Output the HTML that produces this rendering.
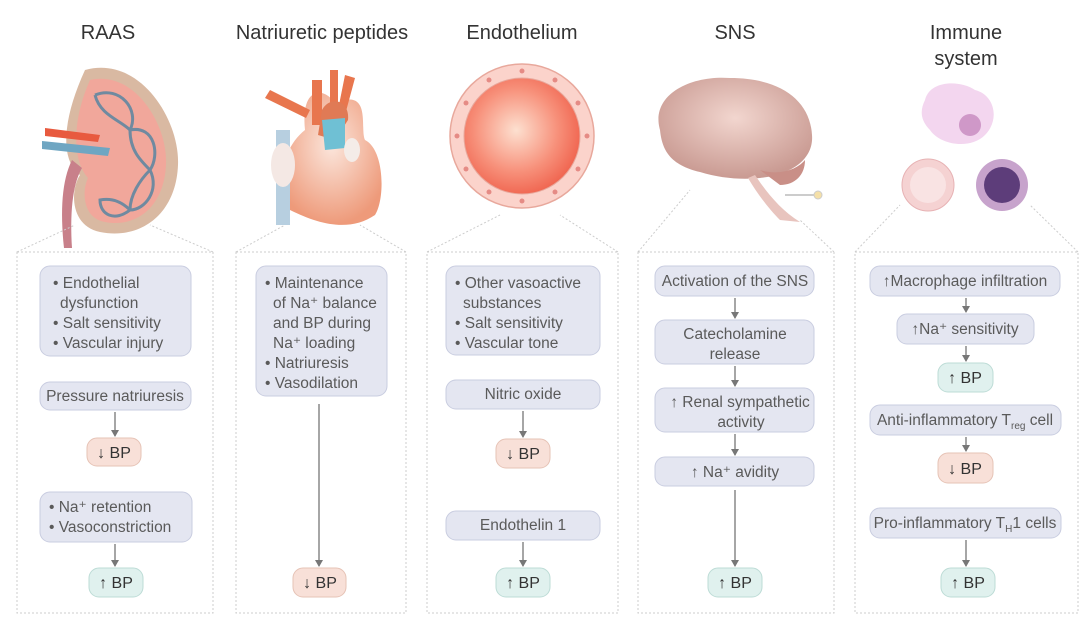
<!DOCTYPE html>
<html><head><meta charset="utf-8"><style>
html,body{margin:0;padding:0;background:#fff;}
svg{display:block;font-family:"Liberation Sans",sans-serif;}
.t{font-size:20px;fill:#333;text-anchor:middle;}
.n{font-size:15.5px;fill:#5a5a5a;}
.c{text-anchor:middle;}
.b{fill:#e4e6f1;stroke:#c9cde0;stroke-width:1;}
.r{fill:#f8e0d8;stroke:#e6c3b6;}
.g{fill:#e0f1ee;stroke:#bddcd6;}
.bp{font-size:16px;fill:#333;text-anchor:middle;}
.ar{stroke:#777;stroke-width:1.3;fill:none;}
.pn{fill:none;stroke:#ccc;stroke-width:1;stroke-dasharray:2,2;}
</style></head><body>
<svg width="1080" height="632" viewBox="0 0 1080 632">
<defs>
<marker id="a" markerWidth="8" markerHeight="8" refX="6" refY="4" orient="auto" markerUnits="userSpaceOnUse"><path d="M0,0 L7,4 L0,8 Z" fill="#777"/></marker>
<radialGradient id="eg" cx="0.45" cy="0.45" r="0.6"><stop offset="0" stop-color="#fde0d0"/><stop offset="0.6" stop-color="#f7907a"/><stop offset="1" stop-color="#ef5f4a"/></radialGradient>
<radialGradient id="bg" cx="0.5" cy="0.4" r="0.6"><stop offset="0" stop-color="#f2d6cf"/><stop offset="1" stop-color="#c99a92"/></radialGradient>
<radialGradient id="hg" cx="0.5" cy="0.4" r="0.6"><stop offset="0" stop-color="#fbe6dc"/><stop offset="1" stop-color="#ee9a7a"/></radialGradient>
</defs>

<text class="t" x="108" y="39">RAAS</text>
<text class="t" x="322" y="39">Natriuretic peptides</text>
<text class="t" x="522" y="39">Endothelium</text>
<text class="t" x="735" y="39">SNS</text>
<text class="t" x="966" y="39">Immune</text>
<text class="t" x="966" y="65">system</text>

<!-- kidney -->
<path d="M85,70 C140,55 180,120 178,165 C176,215 140,240 100,232 C70,226 70,190 80,175 C60,160 62,120 85,70 Z" fill="#d9b9a2"/>
<path d="M90,80 C135,70 168,125 166,165 C164,208 135,228 105,222 C82,218 82,190 88,178 C72,160 72,120 90,80 Z" fill="#f1a79b"/>
<g fill="none" stroke="#6f8aa0" stroke-width="3">
<path d="M95,95 C120,85 140,110 130,130 C120,120 100,115 95,95"/>
<path d="M130,130 C155,125 160,155 150,170 C140,160 130,150 130,130"/>
<path d="M150,170 C160,190 145,210 130,210 C130,195 140,180 150,170"/>
<path d="M130,210 C115,222 100,215 100,200 C110,198 120,200 130,210"/>
</g>
<path d="M45,128 L100,135 L98,142 L45,136 Z" fill="#e85a3f"/>
<path d="M42,141 L110,148 L108,156 L42,149 Z" fill="#6fa6c2"/>
<path d="M72,160 C62,180 60,210 64,248 L72,248 C70,215 72,185 82,168 Z" fill="#c8808a"/>
<!-- heart -->
<path d="M305,130 C300,80 330,90 335,105 L345,100 C370,95 360,130 365,140 C385,150 385,200 375,215 C350,232 320,225 290,210 C275,190 280,150 305,130 Z" fill="url(#hg)"/>
<path d="M312,80 L322,80 L322,125 L312,125 Z" fill="#e8764e"/>
<path d="M330,70 L338,70 L338,110 L330,110 Z" fill="#e8764e"/>
<path d="M270,90 L310,110 L306,118 L265,98 Z" fill="#e8764e"/>
<path d="M345,75 L355,78 L345,115 L338,110 Z" fill="#e8764e"/>
<path d="M322,110 C330,95 350,100 348,120 L335,140 L318,135 Z" fill="#e07a55"/>
<path d="M322,120 L345,118 L345,148 L325,150 Z" fill="#6fc0d4"/>
<rect x="276" y="130" width="14" height="95" fill="#b7cfe0"/>
<ellipse cx="283" cy="165" rx="12" ry="22" fill="#f4e8e4"/>
<ellipse cx="352" cy="150" rx="8" ry="12" fill="#f4ece8"/>
<!-- endothelium -->
<circle cx="522" cy="136" r="72" fill="#fbd3cb" stroke="#e8a89c" stroke-width="1.5"/>
<circle cx="522" cy="136" r="58" fill="url(#eg)" stroke="#e8a89c"/>
<g fill="#e58b85">
<circle cx="522" cy="71" r="2.5"/><circle cx="555" cy="80" r="2.5"/><circle cx="578" cy="103" r="2.5"/><circle cx="587" cy="136" r="2.5"/><circle cx="578" cy="169" r="2.5"/><circle cx="555" cy="192" r="2.5"/><circle cx="522" cy="201" r="2.5"/><circle cx="489" cy="192" r="2.5"/><circle cx="466" cy="169" r="2.5"/><circle cx="457" cy="136" r="2.5"/><circle cx="466" cy="103" r="2.5"/><circle cx="489" cy="80" r="2.5"/>
</g>
<!-- brain -->
<path d="M660,130 C650,95 690,75 730,78 C780,78 810,100 812,135 C814,160 790,175 760,178 C740,180 720,178 700,172 C670,165 662,150 660,130 Z" fill="url(#bg)"/>
<path d="M760,170 C775,175 795,172 805,160 C805,175 795,185 780,185 Z" fill="#c98f87"/>
<path d="M755,175 C765,190 780,210 800,222 L780,220 C770,210 758,195 748,178 Z" fill="#e8c4be"/>
<line x1="785" y1="195" x2="815" y2="195" stroke="#ccc" stroke-width="2"/>
<circle cx="818" cy="195" r="4" fill="#f5e0a8" stroke="#ccc"/>
<!-- immune -->
<path d="M925,100 C930,80 960,80 975,90 C995,95 1000,120 985,135 C970,150 940,145 930,130 C920,120 920,110 925,100 Z" fill="#f3d6ef"/>
<circle cx="970" cy="125" r="11" fill="#cf98c8"/>
<circle cx="928" cy="185" r="26" fill="#f5d2d2" stroke="#e7b2b4"/>
<circle cx="928" cy="185" r="18" fill="#f9e3e3"/>
<circle cx="1002" cy="185" r="26" fill="#c7a3cc"/>
<circle cx="1002" cy="185" r="18" fill="#5d3d7a"/>

<g class="pn">
<rect x="17" y="252" width="196" height="361"/>
<path d="M17,252 L75,225 M213,252 L150,225"/>
<rect x="236" y="252" width="170" height="361"/>
<path d="M236,252 L285,225 M406,252 L360,225"/>
<rect x="427" y="252" width="191" height="361"/>
<path d="M427,252 L500,215 M618,252 L560,215"/>
<rect x="638" y="252" width="196" height="361"/>
<path d="M638,252 L690,190 M834,252 L800,220"/>
<rect x="855" y="252" width="223" height="361"/>
<path d="M855,252 L900,205 M1078,252 L1030,205"/>
</g>

<!-- RAAS -->
<rect class="b" x="40" y="266" width="151" height="90" rx="10"/>
<text class="n" x="53" y="288">• Endothelial</text>
<text class="n" x="60" y="308">dysfunction</text>
<text class="n" x="53" y="328">• Salt sensitivity</text>
<text class="n" x="53" y="348">• Vascular injury</text>
<rect class="b" x="40" y="382" width="151" height="28" rx="10"/>
<text class="n c" x="115" y="401">Pressure natriuresis</text>
<line class="ar" x1="115" y1="412" x2="115" y2="436" marker-end="url(#a)"/>
<rect class="r" x="87" y="438" width="54" height="28" rx="10"/>
<text class="bp" x="114" y="458">↓ BP</text>
<rect class="b" x="40" y="492" width="152" height="50" rx="10"/>
<text class="n" x="49" y="512">• Na⁺ retention</text>
<text class="n" x="49" y="532">• Vasoconstriction</text>
<line class="ar" x1="115" y1="544" x2="115" y2="566" marker-end="url(#a)"/>
<rect class="g" x="89" y="568" width="54" height="29" rx="10"/>
<text class="bp" x="116" y="588">↑ BP</text>

<!-- Natriuretic -->
<rect class="b" x="256" y="266" width="131" height="130" rx="10"/>
<text class="n" x="265" y="288">• Maintenance</text>
<text class="n" x="273" y="308">of Na⁺ balance</text>
<text class="n" x="273" y="328">and BP during</text>
<text class="n" x="273" y="348">Na⁺ loading</text>
<text class="n" x="265" y="368">• Natriuresis</text>
<text class="n" x="265" y="388">• Vasodilation</text>
<line class="ar" x1="319" y1="404" x2="319" y2="566" marker-end="url(#a)"/>
<rect class="r" x="293" y="568" width="53" height="29" rx="10"/>
<text class="bp" x="320" y="588">↓ BP</text>

<!-- Endothelium -->
<rect class="b" x="446" y="266" width="154" height="89" rx="10"/>
<text class="n" x="455" y="288">• Other vasoactive</text>
<text class="n" x="463" y="308">substances</text>
<text class="n" x="455" y="328">• Salt sensitivity</text>
<text class="n" x="455" y="348">• Vascular tone</text>
<rect class="b" x="446" y="380" width="154" height="29" rx="10"/>
<text class="n c" x="523" y="399">Nitric oxide</text>
<line class="ar" x1="523" y1="411" x2="523" y2="437" marker-end="url(#a)"/>
<rect class="r" x="496" y="439" width="54" height="29" rx="10"/>
<text class="bp" x="523" y="459">↓ BP</text>
<rect class="b" x="446" y="511" width="154" height="29" rx="10"/>
<text class="n c" x="523" y="530">Endothelin 1</text>
<line class="ar" x1="523" y1="542" x2="523" y2="566" marker-end="url(#a)"/>
<rect class="g" x="496" y="568" width="54" height="29" rx="10"/>
<text class="bp" x="523" y="588">↑ BP</text>

<!-- SNS -->
<rect class="b" x="655" y="266" width="159" height="30" rx="10"/>
<text class="n c" x="735" y="286">Activation of the SNS</text>
<line class="ar" x1="735" y1="298" x2="735" y2="318" marker-end="url(#a)"/>
<rect class="b" x="655" y="320" width="159" height="44" rx="10"/>
<text class="n c" x="735" y="339">Catecholamine</text>
<text class="n c" x="735" y="359">release</text>
<line class="ar" x1="735" y1="366" x2="735" y2="386" marker-end="url(#a)"/>
<rect class="b" x="655" y="388" width="159" height="44" rx="10"/>
<text class="n c" x="740" y="407">↑ Renal sympathetic</text>
<text class="n c" x="741" y="427">activity</text>
<line class="ar" x1="735" y1="434" x2="735" y2="455" marker-end="url(#a)"/>
<rect class="b" x="655" y="457" width="159" height="29" rx="10"/>
<text class="n c" x="735" y="477">↑ Na⁺ avidity</text>
<line class="ar" x1="735" y1="490" x2="735" y2="566" marker-end="url(#a)"/>
<rect class="g" x="708" y="568" width="54" height="29" rx="10"/>
<text class="bp" x="735" y="588">↑ BP</text>

<!-- Immune -->
<rect class="b" x="870" y="266" width="190" height="30" rx="10"/>
<text class="n c" x="965" y="286">↑Macrophage infiltration</text>
<line class="ar" x1="966" y1="298" x2="966" y2="312" marker-end="url(#a)"/>
<rect class="b" x="897" y="314" width="137" height="30" rx="10"/>
<text class="n c" x="965" y="334">↑Na⁺ sensitivity</text>
<line class="ar" x1="966" y1="346" x2="966" y2="361" marker-end="url(#a)"/>
<rect class="g" x="938" y="363" width="55" height="29" rx="10"/>
<text class="bp" x="965" y="383">↑ BP</text>
<rect class="b" x="870" y="405" width="191" height="30" rx="10"/>
<text class="n c" x="965" y="425">Anti-inflammatory T<tspan font-size="10" dy="4">reg</tspan><tspan dy="-4"> cell</tspan></text>
<line class="ar" x1="966" y1="437" x2="966" y2="451" marker-end="url(#a)"/>
<rect class="r" x="938" y="453" width="55" height="30" rx="10"/>
<text class="bp" x="965" y="474">↓ BP</text>
<rect class="b" x="870" y="508" width="191" height="30" rx="10"/>
<text class="n c" x="965" y="528">Pro-inflammatory T<tspan font-size="10" dy="4">H</tspan><tspan dy="-4">1 cells</tspan></text>
<line class="ar" x1="966" y1="540" x2="966" y2="566" marker-end="url(#a)"/>
<rect class="g" x="941" y="568" width="54" height="29" rx="10"/>
<text class="bp" x="968" y="588">↑ BP</text>
</svg>
</body></html>
